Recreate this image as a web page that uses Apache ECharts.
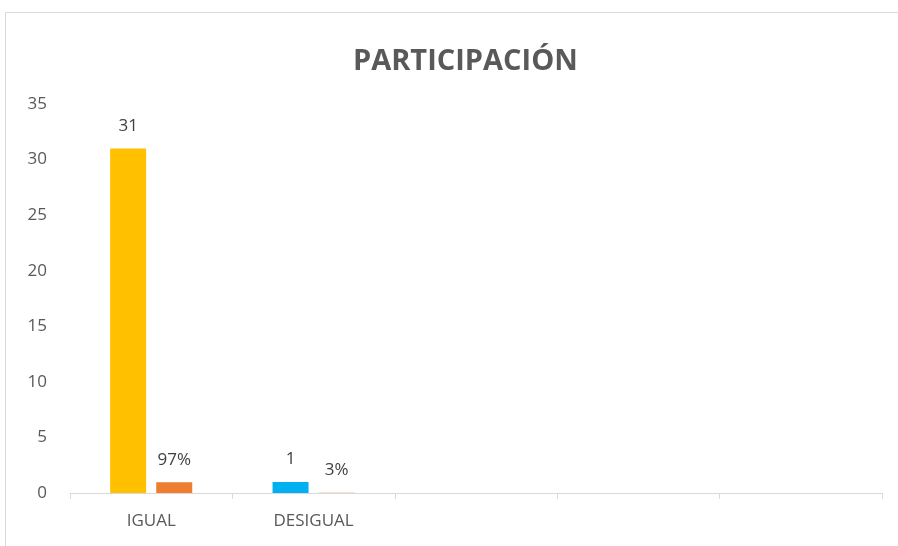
<!DOCTYPE html>
<html>
<head>
<meta charset="utf-8">
<script src="https://cdn.jsdelivr.net/npm/echarts@6/dist/echarts.min.js"></script>
<style>
html,body{margin:0;padding:0;background:#fff;}
#chart{width:898px;height:546px;}
</style>
</head>
<body>
<div id="chart"></div>
<script>
// datos del gráfico
var categorias = ['IGUAL', 'DESIGUAL', '', '', ''];
var cantidades = [31, 1];
var colores = ['#FFC000', '#00B0F0'];
var porcentajes = [0.97, 0.03];
var ticksY = [0, 5, 10, 15, 20, 25, 30, 35];

var fuente = 'Open Sans';

var datosCantidad = cantidades.map(function (v, i) {
	return { value: v, itemStyle: { color: colores[i] } };
});

var option = {
	animation: false,
	backgroundColor: '#fff',
	graphic: [{
		type: 'rect',
		shape: { x: 5.5, y: 12.5, width: 900, height: 600 },
		style: { fill: 'none', stroke: '#d9d9d9', lineWidth: 1 },
		silent: true
	}],
	title: {
		text: 'PARTICIPACIÓN',
		left: 348,
		top: 42,
		textStyle: { fontFamily: fuente, fontSize: 29, fontWeight: 'bold', color: '#595959' }
	},
	grid: { left: 70, right: 16, top: 104, bottom: 53 },
	xAxis: {
		type: 'category',
		data: categorias,
		axisLine: { lineStyle: { color: '#d9d9d9', width: 1 } },
		axisTick: { show: true, length: 6, lineStyle: { color: '#d9d9d9' } },
		axisLabel: { fontFamily: fuente, fontSize: 17, color: '#595959', margin: 20 }
	},
	yAxis: {
		type: 'value',
		min: ticksY[0],
		max: ticksY[ticksY.length - 1],
		interval: 5,
		splitLine: { show: false },
		axisLine: { show: false },
		axisTick: { show: false },
		axisLabel: { fontFamily: fuente, fontSize: 17, color: '#595959', margin: 23 }
	},
	series: [
		{
			name: 'Cantidad',
			type: 'bar',
			data: datosCantidad,
			barWidth: 36,
			barGap: '28%',
			label: {
				show: true, position: 'top', distance: 14,
				fontFamily: fuente, fontSize: 17, color: '#404040'
			}
		},
		{
			name: 'Porcentaje',
			type: 'bar',
			data: porcentajes,
			barWidth: 36,
			itemStyle: { color: '#ED7D31' },
			label: {
				show: true, position: 'top', distance: 14,
				fontFamily: fuente, fontSize: 17, color: '#404040',
				formatter: function (p) { return Math.round(p.value * 100) + '%'; }
			}
		}
	]
};

var myChart = echarts.init(document.getElementById('chart'));
myChart.setOption(option);
</script>
</body>
</html>
